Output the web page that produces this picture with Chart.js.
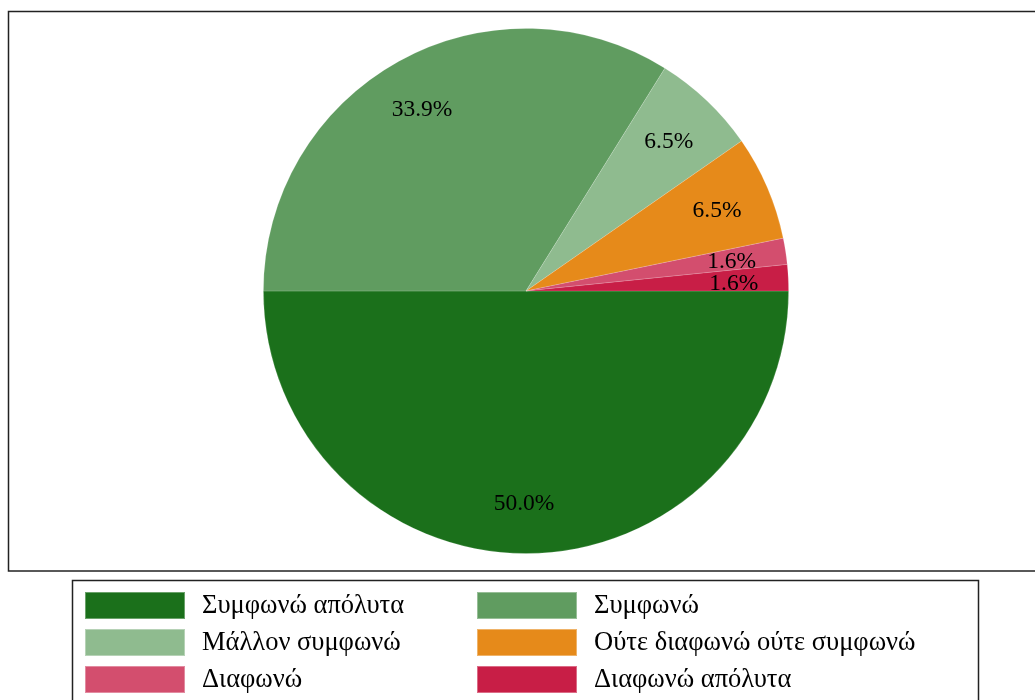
<!DOCTYPE html>
<html>
<head>
<meta charset="utf-8">
<script src="https://cdn.jsdelivr.net/npm/chart.js@4"></script>
<style>
    html, body { margin: 0; padding: 0; background: #fff; }
    #wrap { position: relative; width: 1035px; height: 700px; }
</style>
</head>
<body>
<div id="wrap"><canvas id="chart" width="1035" height="700"></canvas></div>
<script>

const categories = [ 'Συμφωνώ απόλυτα', 'Συμφωνώ', 'Μάλλον συμφωνώ', 'Ούτε διαφωνώ ούτε συμφωνώ', 'Διαφωνώ', 'Διαφωνώ απόλυτα' ];
const responses = [ 31, 21, 4, 4, 1, 1 ];
const colors = [ '#1b701b', '#609c60', '#8fbb8f', '#e68a1a', '#d34e6e', '#c81e46' ];

const FONT = '"Liberation Serif", "Times New Roman", serif';

// frame around the plot and the two-column legend underneath
const framePlugin = {
    id: 'frame',
    beforeDraw ( chart ) {
        const c = chart.ctx;
        c.save();
        c.fillStyle = '#fff';
        c.fillRect( 0, 0, chart.width, chart.height );
        c.strokeStyle = '#222';
        c.lineWidth = 1.5;
        c.strokeRect( 8.5, 11.5, 1040, 559.5 );
        c.restore();
    },
    afterDraw ( chart ) {
        const c = chart.ctx;
        const meta = chart.getDatasetMeta( 0 );
        const total = responses.reduce( ( a, b ) => a + b, 0 );

        // percentage labels inside the slices
        c.save();
        c.font = '23.5px ' + FONT;
        c.fillStyle = '#000';
        c.textAlign = 'center';
        c.textBaseline = 'middle';
        meta.data.forEach( ( arc, i ) => {
            const { x, y, startAngle, endAngle, outerRadius } = arc.getProps( [ 'x', 'y', 'startAngle', 'endAngle', 'outerRadius' ], true );
            const mid = ( startAngle + endAngle ) / 2;
            const r = outerRadius * 0.8;
            const pct = ( responses[ i ] / total * 100 ).toFixed( 1 ) + '%';
            c.fillText( pct, x - 2 + Math.cos( mid ) * r, y + 3 + Math.sin( mid ) * r );
        } );
        c.restore();

        // legend box
        c.save();
        c.strokeStyle = '#222';
        c.lineWidth = 1.5;
        c.strokeRect( 72.5, 580.5, 906, 140 );
        c.font = '26.5px ' + FONT;
        c.textBaseline = 'middle';
        c.textAlign = 'left';
        categories.forEach( ( label, i ) => {
            const col = i % 2, row = Math.floor( i / 2 );
            const sx = col === 0 ? 85 : 477;
            const sy = 592 + row * 37;
            c.fillStyle = colors[ i ];
            c.fillRect( sx, sy, 100, 27 );
            c.strokeStyle = 'rgba(255,255,255,0.35)';
            c.lineWidth = 1;
            c.strokeRect( sx + 0.5, sy + 0.5, 99, 26 );
            c.fillStyle = '#000';
            c.fillText( label, sx + 117, sy + 14 );
        } );
        c.restore();
    }
};

document.addEventListener( 'DOMContentLoaded', function () {

    Chart.defaults.animation = false;
    Chart.defaults.font.family = FONT;

    new Chart( document.getElementById( 'chart' ), {
        type: 'pie',
        data: {
            labels: categories,
            datasets: [ {
                data: responses,
                backgroundColor: colors,
                borderColor: 'rgba(255,255,255,0.2)',
                borderWidth: 0.8
            } ]
        },
        options: {
            responsive: false,
            rotation: 90,
            layout: { padding: { left: 263, top: 28, right: 246, bottom: 146 } },
            plugins: {
                legend: { display: false },
                tooltip: { enabled: false }
            }
        },
        plugins: [ framePlugin ]
    } );

} );

</script>
</body>
</html>
